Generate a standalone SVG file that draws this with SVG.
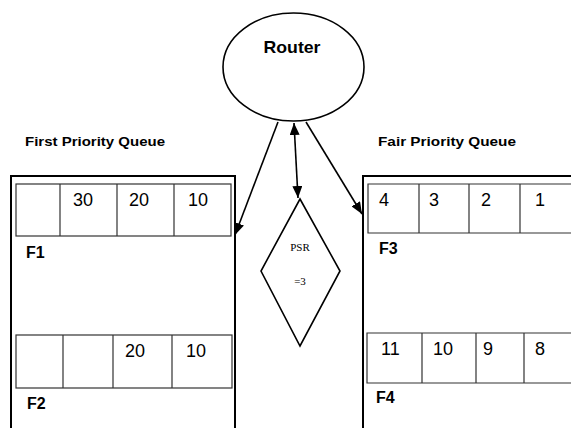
<svg xmlns="http://www.w3.org/2000/svg" width="571" height="428" viewBox="0 0 571 428">
<defs>
<style>
.box{fill:none;stroke:#000;stroke-width:2}
.cell{fill:none;stroke:#333;stroke-width:1.2}
.num{font-family:"Liberation Sans",Arial,sans-serif;font-size:18px;fill:#000}
.lbl{font-family:"Liberation Sans",Arial,sans-serif;font-size:16px;font-weight:bold;fill:#000}
.head{font-family:"Liberation Sans",Arial,sans-serif;font-size:13px;font-weight:bold;fill:#000}
.edge{stroke:#000;stroke-width:1.6;fill:none}
.ser{font-family:"Liberation Serif","Times New Roman",serif;font-size:11px;fill:#000;text-anchor:middle}
</style>
<marker id="ah" viewBox="0 0 12 10" refX="12" refY="5" markerWidth="12" markerHeight="10" markerUnits="userSpaceOnUse" orient="auto-start-reverse">
<path d="M0,0 L12,5 L0,10 Z" fill="#000"/>
</marker>
</defs>
<rect width="571" height="428" fill="#fff"/>

<g id="router">
<ellipse cx="293.5" cy="67" rx="70.5" ry="54" fill="none" stroke="#000" stroke-width="1.6"/>
<text x="292" y="53" text-anchor="middle" style="font-family:'Liberation Sans',Arial,sans-serif;font-size:17px;font-weight:bold" textLength="57" lengthAdjust="spacingAndGlyphs">Router</text>
</g>

<g id="first-priority-queue">
<text class="head" x="25" y="146" textLength="140" lengthAdjust="spacingAndGlyphs">First Priority Queue</text>
<path class="box" d="M11,430 V176 H235 V430"/>
</g>

<g id="f1">
<rect class="cell" x="16" y="184" width="215" height="52"/>
<path class="cell" d="M60,184V236M117,184V236M174,184V236"/>
<text class="num" x="73" y="206">30</text>
<text class="num" x="129" y="206">20</text>
<text class="num" x="188" y="206">10</text>
<text class="lbl" x="26" y="258">F1</text>
</g>

<g id="f2">
<rect class="cell" x="16" y="335" width="216" height="53"/>
<path class="cell" d="M63,335V388M113,335V388M172,335V388"/>
<text class="num" x="125" y="357">20</text>
<text class="num" x="186" y="357">10</text>
<text class="lbl" x="27" y="409">F2</text>
</g>

<g id="fair-priority-queue">
<text class="head" x="378" y="146" textLength="138" lengthAdjust="spacingAndGlyphs">Fair Priority Queue</text>
<path class="box" d="M363,430 V176 H575"/>
</g>

<g id="f3">
<path class="cell" d="M575,184H368V233H575M419,184V233M469,184V233M520,184V233"/>
<text class="num" x="379" y="206">4</text>
<text class="num" x="429" y="206">3</text>
<text class="num" x="481" y="206">2</text>
<text class="num" x="535" y="206">1</text>
<text class="lbl" x="379" y="254">F3</text>
</g>

<g id="f4">
<path class="cell" d="M575,333H367V383H575M422,333V383M476,333V383M524,333V383"/>
<text class="num" x="381" y="355">11</text>
<text class="num" x="433" y="355">10</text>
<text class="num" x="483" y="355">9</text>
<text class="num" x="535" y="355">8</text>
<text class="lbl" x="376" y="403">F4</text>
</g>

<g id="psr">
<polygon points="300,199 340,271 300,346 261,271" fill="none" stroke="#000" stroke-width="1.6"/>
<text class="ser" x="300" y="251">PSR</text>
<text class="ser" x="300" y="285">=3</text>
</g>

<g id="connectors">
<line class="edge" x1="278" y1="122" x2="235" y2="235" marker-end="url(#ah)"/>
<line class="edge" x1="306" y1="122" x2="362" y2="214" marker-end="url(#ah)"/>
<line class="edge" x1="294" y1="123" x2="298" y2="198" marker-start="url(#ah)" marker-end="url(#ah)"/>
</g>
</svg>
